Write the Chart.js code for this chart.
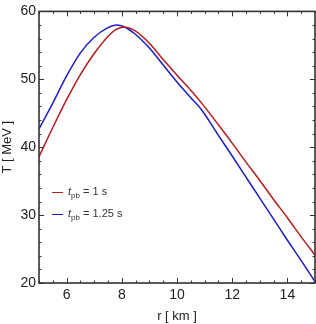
<!DOCTYPE html>
<html>
<head>
<meta charset="utf-8">
<script src="https://cdn.jsdelivr.net/npm/chart.js@4"></script>
<style>
    html, body { margin: 0; padding: 0; background: #fff; }
    #wrap { position: relative; width: 316px; height: 324px; }
    .leg { position: absolute; left: 52px; font-family: 'Liberation Sans', Arial, sans-serif; font-size: 11px; color: #333; white-space: nowrap; }
    .leg span.ln { display: inline-block; width: 11px; height: 0; border-top: 1.5px solid; vertical-align: middle; margin-right: 5px; }
    .leg sub { font-size: 8px; }
</style>
</head>
<body>
<div id="wrap">
    <canvas id="grafico" width="316" height="324"></canvas>
    <div class="leg" style="top: 185px;"><span class="ln" style="border-color:#b51c1c"></span><i>t</i><sub>pb</sub> = 1 s</div>
    <div class="leg" style="top: 207px;"><span class="ln" style="border-color:#1c1cc4"></span><i>t</i><sub>pb</sub> = 1.25 s</div>
</div>
<script>
// ==================== DADOS ====================
// raio r [km]
const raio = [5, 5.5, 6, 6.5, 7, 7.5, 7.8, 8.1, 8.5, 9, 9.5, 10, 10.5, 10.9, 11.5, 12, 12.5, 13, 13.5, 14, 14.5, 15];

// T [MeV] para t_pb = 1 s
const temp1 = [38.6, 42.9, 47.0, 50.7, 53.8, 56.3, 57.35, 57.65, 57.1, 55.3, 52.9, 50.6, 48.4, 46.45, 43.3, 40.6, 37.8, 35.1, 32.3, 29.6, 26.8, 24.1];

// T [MeV] para t_pb = 1.25 s
const temp125 = [42.7, 46.5, 50.5, 53.9, 56.2, 57.6, 58.0, 57.7, 56.6, 54.6, 52.1, 49.6, 47.3, 45.45, 41.75, 38.7, 35.6, 32.5, 29.4, 26.3, 23.3, 20.2];

const ticksX = [6, 8, 10, 12, 14];
const ticksY = [20, 30, 40, 50, 60];

const corVermelho = '#b51c1c';
const corAzul = '#1c1cc4';

function pontos(xs, ys) {
    return xs.map((x, i) => ({ x: x, y: ys[i] }));
}

// Moldura com marcas internas (estilo Mathematica)
const molduraPlugin = {
    id: 'moldura',
    afterDraw(chart) {
        const ctx = chart.ctx;
        const a = chart.chartArea;
        const sx = chart.scales.x;
        const sy = chart.scales.y;
        ctx.save();
        ctx.strokeStyle = '#333';
        ctx.lineWidth = 1;
        // marcas em x
        for (let v = 5; v <= 15.001; v += 0.5) {
            const px = Math.round(sx.getPixelForValue(v)) + 0.5;
            const major = ticksX.includes(v);
            const len = major ? 5 : 2.5;
            ctx.beginPath();
            ctx.moveTo(px, a.bottom); ctx.lineTo(px, a.bottom - len);
            ctx.moveTo(px, a.top); ctx.lineTo(px, a.top + len);
            ctx.stroke();
        }
        // marcas em y
        for (let v = 20; v <= 60.001; v += 2) {
            const py = Math.round(sy.getPixelForValue(v)) + 0.5;
            const major = ticksY.includes(v);
            const len = major ? 5 : 2.5;
            ctx.beginPath();
            ctx.moveTo(a.left, py); ctx.lineTo(a.left + len, py);
            ctx.moveTo(a.right, py); ctx.lineTo(a.right - len, py);
            ctx.stroke();
        }
        ctx.lineWidth = 1.6;
        ctx.strokeRect(a.left, a.top, a.right - a.left, a.bottom - a.top);
        ctx.restore();
    }
};

new Chart(document.getElementById('grafico').getContext('2d'), {
    type: 'line',
    data: {
        datasets: [
            {
                label: 't_pb = 1 s',
                data: pontos(raio, temp1),
                borderColor: corVermelho,
                borderWidth: 1.5,
                pointRadius: 0,
                cubicInterpolationMode: 'monotone',
                fill: false
            },
            {
                label: 't_pb = 1.25 s',
                data: pontos(raio, temp125),
                borderColor: corAzul,
                borderWidth: 1.5,
                pointRadius: 0,
                cubicInterpolationMode: 'monotone',
                fill: false
            }
        ]
    },
    options: {
        responsive: false,
        animation: false,
        layout: { padding: { top: 8, right: 1, left: 0, bottom: 0 } },
        plugins: {
            legend: { display: false },
            tooltip: { enabled: false }
        },
        scales: {
            x: {
                type: 'linear',
                min: 5,
                max: 15,
                afterBuildTicks: s => { s.ticks = ticksX.map(v => ({ value: v })); },
                afterFit: s => { s.height = 41; },
                grid: { display: false, drawTicks: false },
                border: { display: false },
                ticks: {
                    padding: 4,
                    color: '#222',
                    font: { family: "'Liberation Sans', Arial, sans-serif", size: 14 }
                },
                title: {
                    display: true,
                    text: 'r [ km ]',
                    color: '#222',
                    padding: 0,
                    font: { family: "'Liberation Sans', Arial, sans-serif", size: 13 }
                }
            },
            y: {
                type: 'linear',
                min: 20,
                max: 60,
                afterBuildTicks: s => { s.ticks = ticksY.map(v => ({ value: v })); },
                afterFit: s => { s.width = 39; },
                grid: { display: false, drawTicks: false },
                border: { display: false },
                ticks: {
                    padding: 3,
                    color: '#222',
                    font: { family: "'Liberation Sans', Arial, sans-serif", size: 14 }
                },
                title: {
                    display: true,
                    text: 'T [ MeV ]',
                    color: '#222',
                    padding: 0,
                    font: { family: "'Liberation Sans', Arial, sans-serif", size: 13 }
                }
            }
        }
    },
    plugins: [molduraPlugin]
});
</script>
</body>
</html>
